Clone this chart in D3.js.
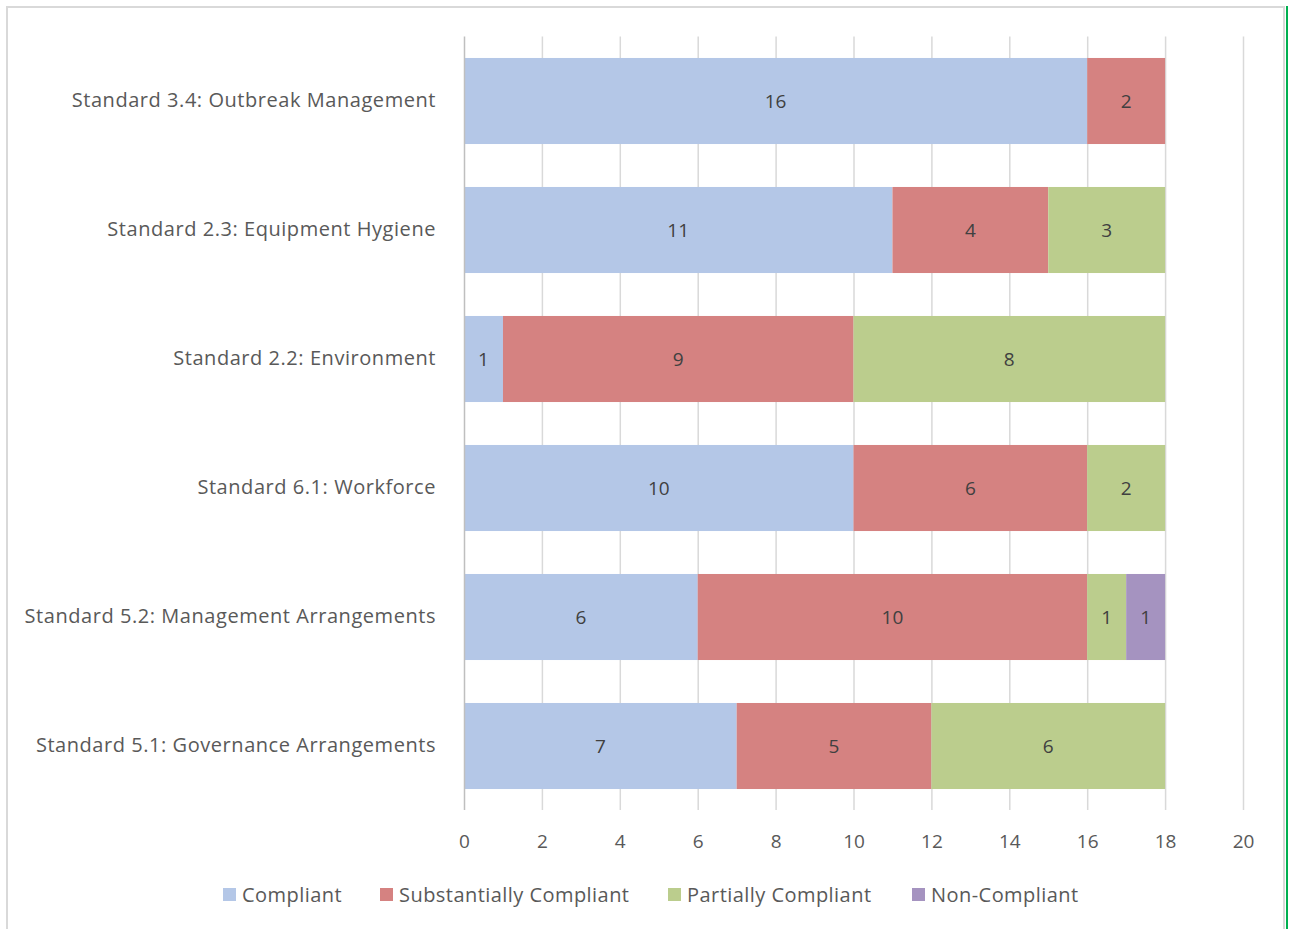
<!DOCTYPE html>
<html><head><meta charset="utf-8">
<script src="https://cdn.jsdelivr.net/npm/d3@7"></script>
<style>html,body{margin:0;padding:0;background:#fff;}svg{display:block;}</style>
</head><body>
<script>
const categories = ["Standard 3.4: Outbreak Management","Standard 2.3: Equipment Hygiene","Standard 2.2: Environment","Standard 6.1: Workforce","Standard 5.2: Management Arrangements","Standard 5.1: Governance Arrangements"];
const seriesNames = ["Compliant","Substantially Compliant","Partially Compliant","Non-Compliant"];
const compliant = [16,11,1,10,6,7];
const substantially = [2,4,9,6,10,5];
const partially = [0,3,8,2,1,6];
const nonCompliant = [0,0,0,0,1,0];
const xTicks = [0,2,4,6,8,10,12,14,16,18,20];
const colors = ["#b4c7e7","#d58281","#bbcd8d","#a593c0"];

const W=1290,H=929;
const svg=d3.select("body").append("svg").attr("width",W).attr("height",H);
const font="'Open Sans', sans-serif";

// frame
svg.append("rect").attr("x",7).attr("y",7).attr("width",1277).attr("height",H).attr("fill","none").attr("stroke","#d9d9d9").attr("stroke-width",2);
svg.append("line").attr("x1",1287).attr("x2",1287).attr("y1",6).attr("y2",H).attr("stroke","#00b050").attr("stroke-width",2);

const rows = categories.map((c,i)=>({cat:c, Compliant:compliant[i], "Substantially Compliant":substantially[i], "Partially Compliant":partially[i], "Non-Compliant":nonCompliant[i]}));
const stack=d3.stack().keys(seriesNames)(rows);

const x=d3.scaleLinear().domain([0,20]).range([464,1243]);
const y=d3.scaleBand().domain(categories).range([36.5,810.5]).paddingInner(0.333).paddingOuter(0.1665);

// gridlines
svg.append("g").selectAll("line").data(xTicks.slice(1)).join("line")
  .attr("x1",d=>x(d)+0.5).attr("x2",d=>x(d)+0.5).attr("y1",36.5).attr("y2",810)
  .attr("stroke","#d9d9d9").attr("stroke-width",1.5);

// bars
const g=svg.append("g");
stack.forEach((s,si)=>{
  g.selectAll(null).data(s.filter(d=>d[1]-d[0]>0)).join("rect")
    .attr("x",d=>x(d[0])).attr("width",d=>x(d[1])-x(d[0]))
    .attr("y",d=>y(d.data.cat)).attr("height",y.bandwidth())
    .attr("fill",colors[si]);
  g.selectAll(null).data(s.filter(d=>d[1]-d[0]>0)).join("text")
    .attr("x",d=>(x(d[0])+x(d[1]))/2).attr("y",d=>y(d.data.cat)+y.bandwidth()/2)
    .attr("dy","0.35em").attr("text-anchor","middle")
    .attr("font-family",font).attr("font-size",19).attr("fill","#404040")
    .text(d=>d[1]-d[0]);
});

// axis line at 0
svg.append("line").attr("x1",x(0)+0.5).attr("x2",x(0)+0.5).attr("y1",36.5).attr("y2",810).attr("stroke","#bfbfbf").attr("stroke-width",1.5);

// x tick labels
const xa=d3.axisBottom(x).tickValues(xTicks).tickSize(0).tickPadding(0);
const xg=svg.append("g").attr("transform","translate(0,841)").call(xa);
xg.select(".domain").remove();
xg.selectAll("text").attr("font-family",font).attr("font-size",19).attr("fill","#595959").attr("dy","0.35em");

// y labels
const ya=d3.axisLeft(y).tickSize(0).tickPadding(0);
const yg=svg.append("g").attr("transform","translate(436,0)").call(ya);
yg.select(".domain").remove();
yg.selectAll("text").attr("font-family",font).attr("font-size",20).attr("letter-spacing","0.55px").attr("fill","#595959");

// legend
const legX=[223,380,668,912];
const lg=svg.append("g");
seriesNames.forEach((n,i)=>{
  lg.append("rect").attr("x",legX[i]).attr("y",888).attr("width",13).attr("height",13).attr("fill",colors[i]);
  lg.append("text").attr("x",legX[i]+19).attr("y",895).attr("dy","0.35em")
    .attr("font-family",font).attr("font-size",20).attr("letter-spacing","0.45px").attr("fill","#595959").text(n);
});
</script>
</body></html>
